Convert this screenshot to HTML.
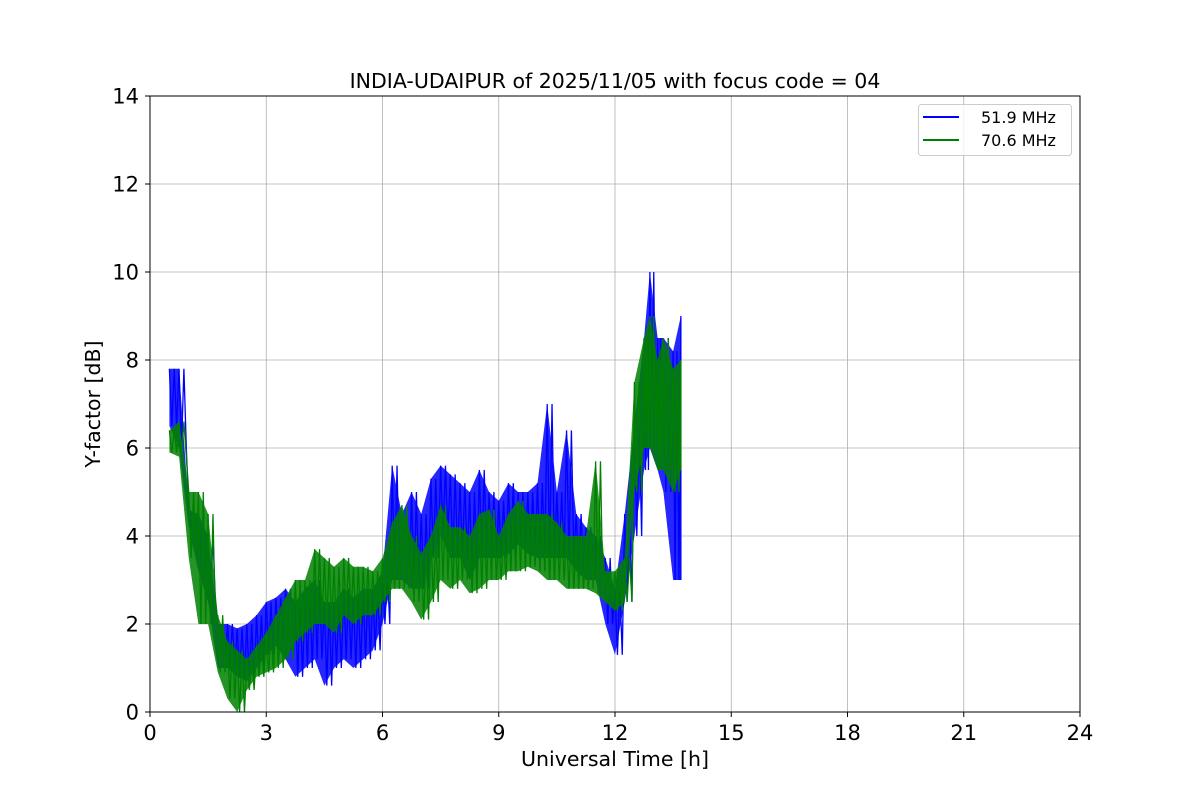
<!DOCTYPE html>
<html><head><meta charset="utf-8"><style>
body{margin:0;background:#fff;}
svg text{font-family:"DejaVu Sans","Liberation Sans",sans-serif;}
</style></head><body>
<svg id="chart" width="1200" height="800">
<rect width="1200" height="800" fill="#fff"/>
<g id="grid"></g>
<g id="series"></g>
<rect x="150" y="96" width="930" height="616" fill="none" stroke="#000" stroke-width="1"/>
<g id="ticks"></g>
<text x="615" y="88" font-size="20.5" text-anchor="middle">INDIA-UDAIPUR of 2025/11/05 with focus code = 04</text>
<text x="615" y="766" font-size="20.5" text-anchor="middle">Universal Time [h]</text>
<text x="100" y="404" font-size="20.5" text-anchor="middle" transform="rotate(-90 100 404)">Y-factor [dB]</text>
<g>
<rect x="918.5" y="104.5" width="153" height="51" rx="3" fill="#fff" fill-opacity="0.8" stroke="#ccc"/>
<line x1="923" y1="117" x2="959" y2="117" stroke="#0000ff" stroke-width="2"/>
<text x="981" y="123" font-size="16">51.9 MHz</text>
<line x1="923" y1="140" x2="959" y2="140" stroke="#008000" stroke-width="2"/>
<text x="981" y="146" font-size="16">70.6 MHz</text>
</g>
</svg>
<script>
const times=[0.5,0.75,1.0,1.25,1.5,1.75,2.0,2.25,2.5,2.75,3.0,3.25,3.5,3.75,4.0,4.25,4.5,4.75,5.0,5.25,5.5,5.75,6.0,6.25,6.5,6.75,7.0,7.25,7.5,7.75,8.0,8.25,8.5,8.75,9.0,9.25,9.5,9.75,10.0,10.25,10.5,10.75,11.0,11.25,11.5,11.75,12.0,12.25,12.5,12.75,12.9,13.1,13.25,13.5,13.7];
const blueLow=[6.5,6.0,4.2,3.2,2.5,1.0,1.0,0.8,0.7,1.0,1.3,1.5,1.2,0.8,1.0,1.2,0.6,1.0,1.2,1.0,1.2,1.4,2.0,3.0,3.0,2.8,2.8,3.5,4.0,3.5,3.5,3.0,3.5,3.5,3.5,3.6,3.8,3.6,3.5,3.5,3.5,3.5,3.2,3.0,3.0,2.0,1.3,2.5,4.0,5.5,6.0,5.5,5.0,3.0,3.0];
const blueHigh=[7.8,7.8,4.6,4.5,4.0,2.0,2.0,1.9,2.0,2.2,2.5,2.6,2.8,2.5,2.8,3.0,2.5,2.5,2.8,2.6,2.8,2.8,3.2,5.6,4.5,5.0,4.5,5.3,5.6,5.4,5.2,5.0,5.5,5.0,4.8,5.2,5.0,5.0,5.2,7.0,5.0,6.4,4.5,4.2,4.0,3.5,2.8,4.5,6.5,8.5,10.0,8.5,8.5,8.2,9.0];
const greenLow=[5.9,5.8,3.5,2.0,2.0,0.9,0.3,0.0,0.5,0.8,0.9,1.0,1.2,1.6,1.8,2.0,2.0,1.8,2.2,2.0,2.2,2.2,2.5,2.8,2.8,2.5,2.1,2.5,3.0,2.8,3.0,2.7,2.8,3.0,3.0,3.2,3.2,3.3,3.2,3.0,3.0,2.8,2.8,2.8,2.7,2.5,2.3,2.5,5.0,6.0,6.0,5.5,5.5,5.0,5.5];
const greenHigh=[6.4,6.6,5.0,5.0,4.5,2.2,1.6,1.4,1.2,1.5,1.8,2.2,2.6,3.0,3.0,3.7,3.5,3.3,3.5,3.3,3.3,3.2,3.5,4.3,4.7,4.0,3.6,4.0,4.7,4.2,4.2,4.0,4.5,4.6,4.0,4.5,4.8,4.5,4.5,4.5,4.3,4.0,4.0,4.0,5.7,3.2,3.2,3.5,7.5,8.5,9.0,8.0,8.5,7.8,8.0];
const xTicks=[0,3,6,9,12,15,18,21,24];
const yTicks=[0,2,4,6,8,10,12,14];

const NS="http://www.w3.org/2000/svg";
const X=v=>150+v*930/24, Y=v=>712-v*616/14;
const grid=document.getElementById('grid'),ticks=document.getElementById('ticks'),ser=document.getElementById('series');
function mk(tag,attrs,parent){const e=document.createElementNS(NS,tag);for(const k in attrs)e.setAttribute(k,attrs[k]);parent.appendChild(e);return e;}
xTicks.forEach(t=>{
  const g=mk('line',{x1:X(t),x2:X(t),y1:96,y2:712,stroke:'#b0b0b0','stroke-width':0.8},grid);
  
  
  mk('line',{x1:X(t),x2:X(t),y1:712,y2:717,stroke:'#000'},ticks);
  const l=mk('text',{x:X(t),y:740,'font-size':21,'text-anchor':'middle'},ticks);l.textContent=t;
  
  
});
yTicks.forEach(t=>{
  const g=mk('line',{x1:150,x2:1080,y1:Y(t),y2:Y(t),stroke:'#b0b0b0','stroke-width':0.8},grid);
  
  
  mk('line',{x1:145,x2:150,y1:Y(t),y2:Y(t),stroke:'#000'},ticks);
  const l=mk('text',{x:139,y:Y(t)+7.5,'font-size':21,'text-anchor':'end'},ticks);l.textContent=t;
  
  
});
function drawSeries(low,high,color,name){
  let top=times.map((t,i)=>X(t)+','+Y(high[i])), bot=times.map((t,i)=>X(t)+','+Y(low[i])).reverse();
  const band=mk('polygon',{points:top.concat(bot).join(' '),fill:color,'fill-opacity':0.85},ser);
  
  
  let pts=[];
  times.forEach((t,i)=>{
    if(i===times.length-1){pts.push(X(t)+','+Y(high[i]));pts.push(X(t)+','+Y(low[i]));return;}
    const step=(times[i+1]-t)/4;
    pts.push(X(t)+','+Y(high[i]));pts.push(X(t+step)+','+Y(low[i]));
    pts.push(X(t+2*step)+','+Y(high[i]));pts.push(X(t+3*step)+','+Y(low[i]));
  });
  const pl=mk('polyline',{points:pts.join(' '),fill:'none',stroke:color,'stroke-width':1.3},ser);
  
  
}
drawSeries(blueLow,blueHigh,'#0000ff','series-51-9-mhz');
drawSeries(greenLow,greenHigh,'#008000','series-70-6-mhz');
</script>
</body></html>
